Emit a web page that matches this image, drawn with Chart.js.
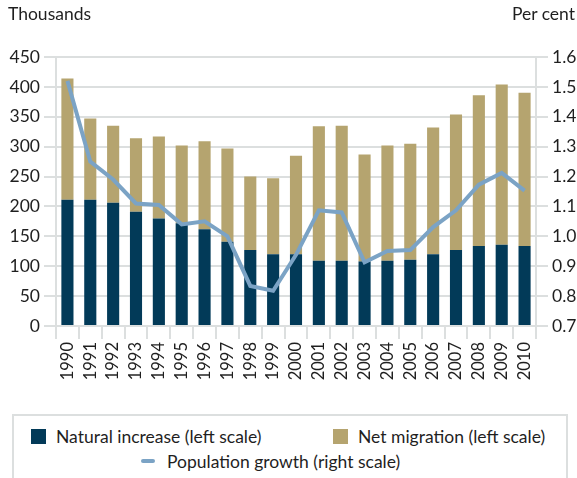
<!DOCTYPE html>
<html>
<head>
<meta charset="utf-8">
<script src="https://cdn.jsdelivr.net/npm/chart.js@4"></script>
<style>
  body { margin: 0; background: #fff; font-family: 'Lato', sans-serif; color: #1f1f1f; }
  #wrap { position: relative; width: 577px; height: 478px; overflow: hidden; }
  #chartBox { position: absolute; left: 0; top: 0; width: 577px; height: 400px; }
  .unit { position: absolute; top: 3px; font-size: 17.5px; }
  #legend { position: absolute; left: 12px; top: 414px; width: 556px; height: 80px;
    border: 2px solid #dcdfdf; box-sizing: border-box; font-size: 17.5px; }
  .item { position: absolute; white-space: nowrap; }
  .sq { display: inline-block; width: 15px; height: 15px; vertical-align: -1px; margin-right: 10px; }
  .ln { display: inline-block; width: 14px; height: 4px; border-radius: 2px; background: #7ba3c5; vertical-align: 5px; margin-right: 12px; }
</style>
</head>
<body>
<div id="wrap">
  <div id="chartBox"><canvas id="popChart"></canvas></div>
  <div class="unit" style="left:8px">Thousands</div>
  <div class="unit" style="right:2px">Per cent</div>
  <div id="legend">
    <div class="item" style="left:17px;top:10px"><span class="sq" style="background:#023a58"></span>Natural increase (left scale)</div>
    <div class="item" style="left:319px;top:10px"><span class="sq" style="background:#b5a46f"></span>Net migration (left scale)</div>
    <div class="item" style="left:127px;top:35px"><span class="ln"></span>Population growth (right scale)</div>
  </div>
</div>
<script>
const years = ['1990', '1991', '1992', '1993', '1994', '1995', '1996', '1997', '1998', '1999', '2000',
  '2001', '2002', '2003', '2004', '2005', '2006', '2007', '2008', '2009', '2010']
const naturalIncrease = [211, 211, 206, 191, 180, 172, 162, 141, 127, 120, 120,
  109, 109, 108, 109, 111, 120, 127, 134, 136, 134]
const netMigration = [203, 136, 129, 123, 137, 130, 147, 156, 123, 127, 165,
  225, 226, 179, 193, 194, 212, 227, 252, 268, 256]
const populationGrowth = [1.52, 1.25, 1.19, 1.11, 1.105, 1.04, 1.05, 1.0, 0.834, 0.818, 0.938,
  1.087, 1.08, 0.913, 0.951, 0.954, 1.031, 1.087, 1.173, 1.212, 1.153]

const gridColor = '#dcdfdf'
const textColor = '#1f1f1f'
const fontFamily = 'Lato'

new Chart(document.getElementById('popChart'), {
  type: 'bar',
  data: {
    labels: years,
    datasets: [
      {
        type: 'line',
        label: 'Population growth (right scale)',
        data: populationGrowth,
        yAxisID: 'y1',
        borderColor: '#7ba3c5',
        backgroundColor: '#7ba3c5',
        borderWidth: 4,
        pointRadius: 0,
        tension: 0,
        order: 0
      },
      {
        label: 'Natural increase (left scale)',
        data: naturalIncrease,
        backgroundColor: '#023a58',
        stack: 'pop',
        order: 1
      },
      {
        label: 'Net migration (left scale)',
        data: netMigration,
        backgroundColor: '#b5a46f',
        stack: 'pop',
        order: 1
      }
    ]
  },
  options: {
    responsive: true,
    maintainAspectRatio: false,
    animation: false,
    datasets: { bar: { barPercentage: 0.53, categoryPercentage: 1 } },
    layout: { padding: { top: 57, left: 0, right: 0, bottom: 0 } },
    plugins: {
      legend: { display: false },
      tooltip: { enabled: false }
    },
    scales: {
      x: {
        stacked: true,
        grid: { offset: true, drawOnChartArea: false, tickLength: 13, color: gridColor, lineWidth: 2 },
        border: { display: false },
        ticks: {
          minRotation: 90,
          maxRotation: 90,
          padding: 3,
          color: textColor,
          font: { family: fontFamily, size: 16.5 }
        },
        afterFit: scale => { scale.height = 74 }
      },
      y: {
        stacked: true,
        position: 'left',
        min: 0,
        max: 450,
        grid: { color: gridColor, lineWidth: 2, tickLength: 12 },
        border: { color: gridColor, width: 2 },
        ticks: {
          stepSize: 50,
          padding: 4,
          color: textColor,
          font: { family: fontFamily, size: 17.5 }
        },
        afterFit: scale => { scale.width = 56 }
      },
      y1: {
        position: 'right',
        min: 0.7,
        max: 1.6,
        grid: { drawOnChartArea: false, color: gridColor, lineWidth: 2, tickLength: 12 },
        border: { color: gridColor, width: 2 },
        ticks: {
          stepSize: 0.1,
          padding: 4,
          color: textColor,
          font: { family: fontFamily, size: 17.5 },
          callback: v => v.toFixed(1)
        },
        afterFit: scale => { scale.width = 41 }
      }
    }
  }
})
</script>
</body>
</html>
